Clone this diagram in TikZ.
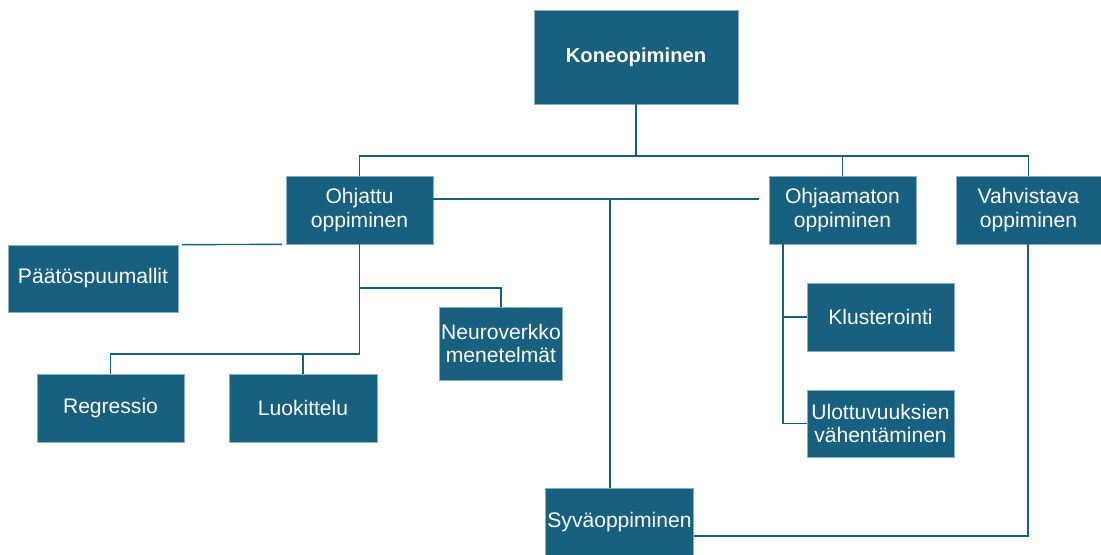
\documentclass[tikz,border=0pt]{standalone}
\usepackage{fontspec}
\setmainfont{Liberation Sans}
\definecolor{koneblue}{HTML}{17607F}

\begin{document}
\begin{tikzpicture}[x=0.02cm, y=-0.02cm,
        box/.style={draw=koneblue!50!white, line width=0.4pt, fill=koneblue, text=white,
            align=center, inner sep=1pt, font=\fontsize{12}{13.5}\selectfont,
            minimum width=2.94cm, minimum height=1.36cm},
        link/.style={draw=koneblue, line width=0.8pt}]
        \useasboundingbox (0,0) rectangle (1101,554);
        \node[box, minimum width=4.08cm, minimum height=1.88cm,
            font=\fontsize{11.5}{13.5}\selectfont\bfseries] (kone) at (636,57) {Koneopiminen};
        \node[box] (ohjattu) at (359.5,210) {Ohjattu\\oppiminen};
        \node[box] (ohjaamaton) at (842.5,210) {Ohjaamaton\\oppiminen};
        \node[box, minimum width=2.9cm] (vahvistava) at (1028.5,210) {Vahvistava\\oppiminen};
        \node[box, minimum width=3.4cm, minimum height=1.34cm] (paatos) at (93,278.5) {Päätöspuumallit};
        \node[box] (regressio) at (110.5,408) {Regressio};
        \node[box, minimum width=2.96cm] (luokittelu) at (303,408) {Luokittelu};
        \node[box, minimum width=2.44cm, minimum height=1.46cm] (neuro) at (501,343.5) {Neuroverkko\\menetelmät};
        \node[box] (klusterointi) at (880.5,317) {Klusterointi};
        \node[box, minimum height=1.34cm] (ulottuvuus) at (880.5,423.5) {Ulottuvuuksien\\vähentäminen};
        \node[box] (syva) at (619.5,522) {Syväoppiminen};

        \draw[link] (kone.south) -- (636,156) coordinate (bus);
        \draw[link] (ohjattu.north) |- (bus) -| (vahvistava.north);
        \draw[link] (ohjaamaton.north) -- (ohjaamaton.north |- bus);
        \draw[link, shorten >=0.2cm] (ohjattu.east |- 0,199) -- (ohjaamaton.west |- 0,199);
        \draw[link] (syva.north -| 610,0) -- (610,199);
        \draw[link, shorten <=2pt, shorten >=2pt] (paatos.north east) -- (ohjattu.south west);
        \draw[link] (ohjattu.south) -- (359.5,354) coordinate (hub) -| (regressio.north);
        \draw[link] (luokittelu.north) -- (luokittelu.north |- hub);
        \draw[link] (359.5,288) -| (neuro.north);
        \draw[link] (ohjaamaton.south -| 783,0) |- (ulottuvuus.west);
        \draw[link] (klusterointi.west) -- (klusterointi.west -| 783,0);
        \draw[link] (vahvistava.south -| 1028,0) |- (syva.east |- 0,536);
    \end{tikzpicture}
\end{document}
